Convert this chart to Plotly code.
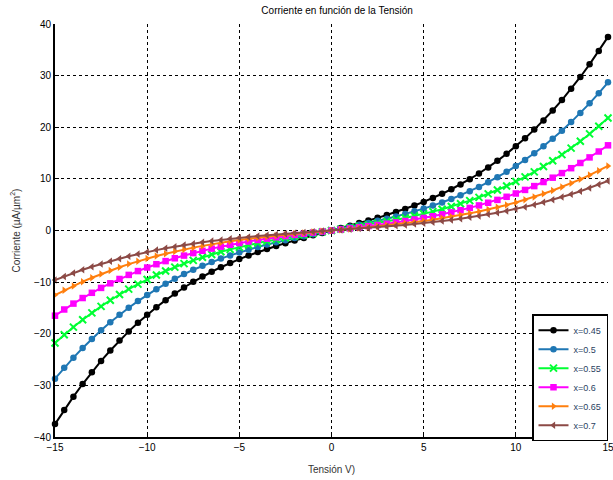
import plotly.graph_objects as go

V = [-15 + 0.5 * i for i in range(61)]

pos_045 = [0, 0.47, 0.94, 1.43, 1.93, 2.45, 2.99, 3.57, 4.18, 4.84, 5.54, 6.30, 7.11, 7.99, 8.93, 9.95,
           11.04, 12.22, 13.49, 14.85, 16.31, 17.87, 19.54, 21.33, 23.24, 25.27, 27.44, 29.74, 32.18, 34.76, 37.50]
pos_05 = [0, 0.36, 0.72, 1.09, 1.47, 1.87, 2.29, 2.73, 3.20, 3.71, 4.24, 4.82, 5.44, 6.11, 6.84, 7.61,
          8.45, 9.35, 10.32, 11.36, 12.48, 13.68, 14.96, 16.33, 17.79, 19.34, 21.00, 22.76, 24.63, 26.61, 28.70]
pos_055 = [0, 0.27, 0.55, 0.83, 1.12, 1.42, 1.74, 2.08, 2.43, 2.81, 3.22, 3.66, 4.13, 4.64, 5.19, 5.78,
           6.42, 7.10, 7.84, 8.63, 9.48, 10.39, 11.36, 12.40, 13.51, 14.69, 15.95, 17.29, 18.71, 20.21, 21.80]
pos_06 = [0, 0.21, 0.41, 0.63, 0.85, 1.08, 1.32, 1.57, 1.84, 2.13, 2.44, 2.77, 3.13, 3.51, 3.93, 4.38,
          4.86, 5.38, 5.93, 6.53, 7.17, 7.86, 8.60, 9.39, 10.23, 11.12, 12.07, 13.08, 14.16, 15.30, 16.50]
pos_065 = [0, 0.16, 0.31, 0.48, 0.64, 0.82, 1.00, 1.19, 1.40, 1.61, 1.85, 2.10, 2.37, 2.66, 2.98, 3.32,
           3.68, 4.07, 4.50, 4.95, 5.44, 5.96, 6.51, 7.11, 7.75, 8.42, 9.15, 9.91, 10.73, 11.59, 12.50]
pos_07 = [0, 0.12, 0.24, 0.37, 0.49, 0.63, 0.77, 0.91, 1.07, 1.24, 1.42, 1.61, 1.82, 2.05, 2.29, 2.55,
          2.83, 3.13, 3.45, 3.80, 4.17, 4.57, 5.00, 5.46, 5.95, 6.47, 7.02, 7.61, 8.24, 8.90, 9.60]

x_ticks = [-15, -10, -5, 0, 5, 10, 15]
y_ticks = [-40, -30, -20, -10, 0, 10, 20, 30, 40]

def full(p):
    return [-v for v in p[:0:-1]] + p

series = [
    ("x=0.45", full(pos_045), "#000000", "circle"),
    ("x=0.5", full(pos_05), "#1f77b4", "circle"),
    ("x=0.55", full(pos_055), "#00ff33", "x-thin-open"),
    ("x=0.6", full(pos_06), "#ff00ff", "square"),
    ("x=0.65", full(pos_065), "#ff7f0e", "triangle-right"),
    ("x=0.7", full(pos_07), "#8c4a46", "triangle-left"),
]

fig = go.Figure()
for name, y, c, sym in series:
    mk = dict(symbol=sym, size=6.5, color=c)
    if sym == "x-thin-open":
        mk = dict(symbol=sym, size=7, color=c, line=dict(width=2, color=c))
    fig.add_trace(go.Scatter(x=V, y=y, mode="lines+markers", name=name,
                             line=dict(color=c, width=2), marker=mk, cliponaxis=False))

axis_common = dict(
    showgrid=True, gridcolor="black", griddash="dot", gridwidth=1,
    showline=True, linecolor="black", linewidth=2, automargin=False,
    ticks="inside", ticklen=4, tickcolor="black", ticklabeloverflow="allow",
    zeroline=False, tickfont=dict(family="Liberation Sans", size=10, color="black"),
)

fig.update_layout(
    width=613, height=480,
    margin=dict(l=55, r=5, t=24, b=43),
    plot_bgcolor="white", paper_bgcolor="white",
    title=dict(text="Corriente en función de la Tensión", x=0.55, xanchor="center",
               y=0.985, yanchor="top", font=dict(family="Liberation Sans", size=10, color="black")),
    xaxis=dict(range=[-15, 15], tickvals=x_ticks, ticktext=[str(t).replace("-", "−") for t in x_ticks],
               title=dict(text="Tensión V)", standoff=14,
               font=dict(family="Liberation Sans", size=10, color="#333")), **axis_common),
    yaxis=dict(range=[-40, 40], tickvals=y_ticks, ticktext=[str(t).replace("-", "−") for t in y_ticks],
               title=dict(text="Corriente (µA/µm<sup>2</sup>)", standoff=12,
               font=dict(family="Liberation Sans", size=10, color="#333")), **axis_common),
    legend=dict(x=1.0, y=-0.01, xanchor="right", yanchor="bottom", bgcolor="white",
                bordercolor="black", borderwidth=1.5, font=dict(family="Liberation Sans", size=9),
                tracegroupgap=0, itemwidth=30),
    showlegend=True,
)

fig.write_html("out.html")
